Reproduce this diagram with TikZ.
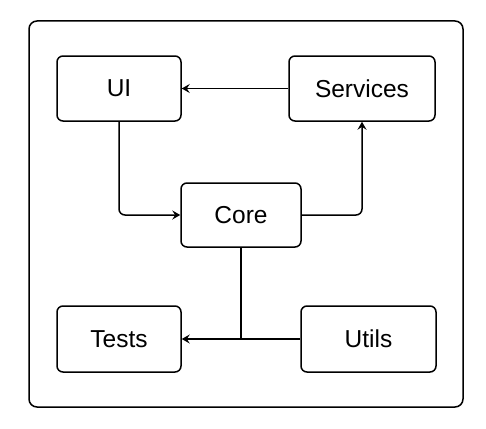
\documentclass[tikz,border=0pt]{standalone}
\usepackage{fontspec}
\setmainfont{Liberation Sans}
\usepackage{tikz}
\usetikzlibrary{arrows.meta,positioning}
\tikzset{
  block/.style={draw,line width=1.5pt,rounded corners=6pt,align=center,
    font=\fontsize{24.5}{28}\selectfont,inner sep=0pt},
  link/.style={line width=1.5pt},
  linkarrow/.style={link,-{Stealth[length=8pt,width=9pt,inset=3pt]}}
}
\begin{document}
\begin{tikzpicture}[x=1pt,y=-1pt]
  \useasboundingbox (0,0) rectangle (486,428);
  \draw[line width=1.5pt,rounded corners=8pt] (29,21) rectangle (463,407);
  % boxes
  \node[block,minimum width=124pt,minimum height=65pt] (ui) at (119,88.5) {UI};
  \node[block,minimum width=146pt,minimum height=65pt] (services) at (362,88.5) {Services};
  \node[block,minimum width=120pt,minimum height=64pt] (core) at (241,215) {Core};
  \node[block,minimum width=124pt,minimum height=66pt] (tests) at (119,339) {Tests};
  \node[block,minimum width=135pt,minimum height=66pt] (utils) at (368.5,339) {Utils};
  % links
  \draw[linkarrow] (services) -- (ui);
  \draw[linkarrow,rounded corners=6pt] (ui.south) |- (core.west);
  \draw[linkarrow,rounded corners=6pt] (core.east) -| (services.south);
  \coordinate (joint) at (core.south |- tests.east);
  \draw[link] (core.south) -- (joint);
  \draw[linkarrow] (utils.west) -- (tests.east);
\end{tikzpicture}
\end{document}
